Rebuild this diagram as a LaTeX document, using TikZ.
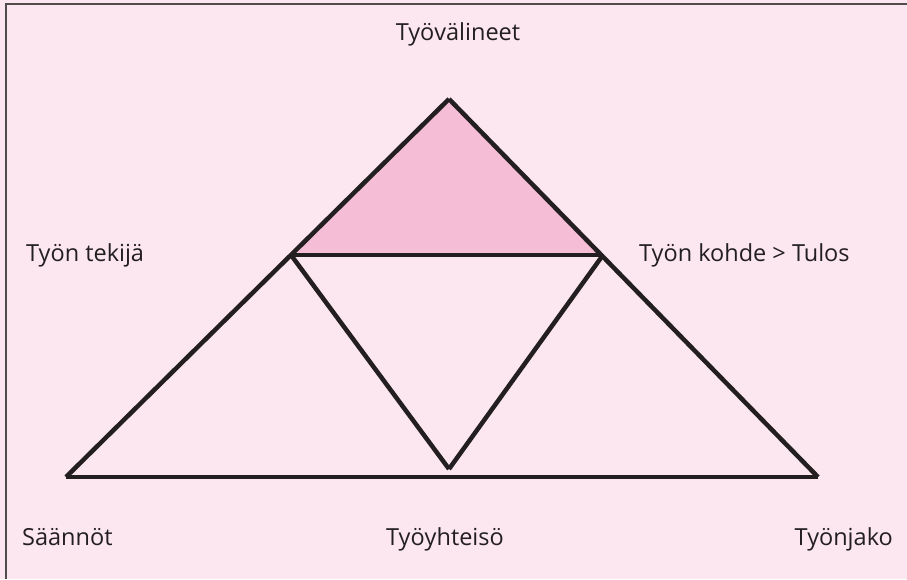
\documentclass[tikz,border=0pt]{standalone}
\usepackage{fontspec}
\setmainfont{Open Sans}
\usepackage{xcolor}
\usepackage{tikz}

\definecolor{sfondo}{HTML}{FCE6EF}
\definecolor{riempi}{HTML}{F5BDD6}
\definecolor{linea}{HTML}{231F20}

\begin{document}
\begin{tikzpicture}[
    x=1pt,
    y=-1pt,
    line cap=butt,
    line join=miter,
    lato/.style={linea,line width=4.5pt},
    etichetta/.style={text=linea,font=\fontsize{23.5}{27}\selectfont,inner sep=0pt}
]

% Sfondo
\fill[sfondo] (0,0) rectangle (907,579);
\useasboundingbox (0,0) rectangle (907,579);
\draw[linea!80,line width=2pt] (6,579) -- (6,4) -- (907,4);

% Vertici
\coordinate (apice) at (449,99);
\coordinate (sx) at (66,477);
\coordinate (dx) at (818,477);
\coordinate (msx) at (291,255);
\coordinate (mdx) at (603,255);
\coordinate (mbasso) at (449,469);

% Triangolo superiore
\fill[riempi] (apice) -- (msx) -- (mdx) -- cycle;

% Lati
\draw[lato] (apice) -- (sx);
\draw[lato] (apice) -- (dx);
\draw[lato] (sx) -- (dx);
\draw[lato] (msx) -- (mdx);
\draw[lato] (msx) -- (mbasso);
\draw[lato] (mdx) -- (mbasso);

% Testi
\node[etichetta,anchor=base] (valineet) at (458,40) {Työvälineet};
\node[etichetta,anchor=base west] (tekija) at (26,261) {Työn tekijä};
\node[etichetta,anchor=base west] (kohde) at (639,261) {Työn kohde > Tulos};
\node[etichetta,anchor=base west] (saannot) at (22,545) {Säännöt};
\node[etichetta,anchor=base] (yhteiso) at (445,545) {Työyhteisö};
\node[etichetta,anchor=base east] (jako) at (893,545) {Työnjako};

\end{tikzpicture}
\end{document}
